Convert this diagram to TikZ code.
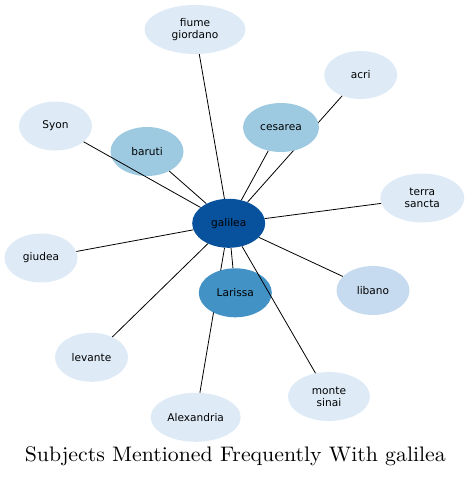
\documentclass[tikz,border=0pt]{standalone}
\usepackage{fontspec}
\setsansfont{DejaVu Sans}
\newfontfamily\titlefont{lmroman10-regular.otf}
\usetikzlibrary{shapes.geometric}
\definecolor{c1}{HTML}{08519C}
\definecolor{c2}{HTML}{4292C6}
\definecolor{c3}{HTML}{9ECAE1}
\definecolor{c4}{HTML}{C6DBEF}
\definecolor{c5}{HTML}{DEEBF7}
\tikzset{
  ent/.style={ellipse, inner sep=0pt, draw=none, align=center, text=black,
    font=\sffamily\fontsize{10.6}{12}\selectfont},
  edge/.style={draw=black, line width=0.8pt}
}
\begin{document}
\begin{tikzpicture}[x=1pt,y=-1pt]
\useasboundingbox (0,0) rectangle (469,477);
\node[ent, fill=c5, minimum width=101pt, minimum height=49pt] (fiume) at (195,29.5) {fiume\\giordano};
\node[ent, fill=c5, minimum width=73pt, minimum height=48pt] (acri) at (360.7,75) {acri};
\node[ent, fill=c5, minimum width=84pt, minimum height=49pt] (terra) at (422.3,198) {terra\\sancta};
\node[ent, fill=c5, minimum width=73pt, minimum height=49pt] (syon) at (55.5,126) {Syon};
\node[ent, fill=c5, minimum width=73pt, minimum height=49pt] (giudea) at (41,258) {giudea};
\node[ent, fill=c4, minimum width=73pt, minimum height=49pt] (libano) at (373,290.5) {libano};
\node[ent, fill=c5, minimum width=73pt, minimum height=49pt] (levante) at (91.5,357.3) {levante};
\node[ent, fill=c5, minimum width=90pt, minimum height=49pt] (alex) at (195.7,417.3) {Alexandria};
\node[ent, fill=c5, minimum width=82pt, minimum height=49pt] (monte) at (329,396.5) {monte\\sinai};
\node[ent, fill=c1, minimum width=73pt, minimum height=49pt] (galilea) at (228.7,223.3) {galilea};
% edges hidden behind intermediate nodes
\draw[edge] (galilea) -- (fiume);
\draw[edge] (galilea) -- (acri);
\draw[edge] (galilea) -- (terra);
\draw[edge] (galilea) -- (giudea);
\draw[edge] (galilea) -- (libano);
\draw[edge] (galilea) -- (levante);
\draw[edge] (galilea) -- (alex);
\node[ent, fill=c3, minimum width=76pt, minimum height=49pt] (cesarea) at (281,127.5) {cesarea};
\node[ent, fill=c3, minimum width=73pt, minimum height=49pt] (baruti) at (147,151.5) {baruti};
\node[ent, fill=c2, minimum width=73pt, minimum height=49pt] (larissa) at (235.3,292.8) {Larissa};
\draw[edge] (galilea) -- (syon);
\draw[edge] (galilea) -- (cesarea);
\draw[edge] (galilea) -- (baruti);
\draw[edge] (galilea) -- (larissa);
\draw[edge] (galilea) -- (monte);
\node[anchor=base, inner sep=0pt] (title) at (235.3,461.7) {\resizebox{421pt}{\height}{\titlefont\fontsize{21}{24}\selectfont Subjects Mentioned Frequently With galilea}};
\end{tikzpicture}
\end{document}
